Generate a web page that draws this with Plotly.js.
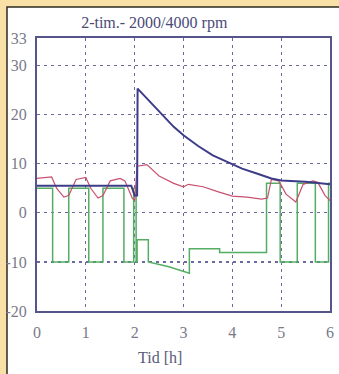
<!DOCTYPE html>
<html>
<head>
<meta charset="utf-8">
<script src="https://cdn.plot.ly/plotly-3.0.1.min.js"></script>
<style>
html,body{margin:0;padding:0;background:#ffffff;}
#chart{width:339px;height:374px;}
</style>
</head>
<body>
<div id="chart"></div>
<script>
// Blue series (dark navy)
const tBlue = [0, 1.93, 2.0, 2.05, 2.06, 2.2, 2.5, 2.8, 3.0, 3.3, 3.6, 3.9, 4.2, 4.5, 4.8, 5.0, 5.5, 6.0];
const blueVals = [5.5, 5.5, 3.5, 3.5, 25.3, 23.8, 20.6, 17.5, 15.8, 13.6, 11.7, 10.3, 9.0, 8.0, 7.0, 6.6, 6.3, 5.8];

// Red series (thin crimson)
const tRed = [0, 0.3, 0.4, 0.55, 0.65, 0.8, 1.0, 1.1, 1.25, 1.35, 1.5, 1.7, 1.8, 1.95, 2.0, 2.05, 2.25, 2.5, 2.8, 3.0, 3.1, 3.4, 3.7, 4.0, 4.3, 4.6, 4.72, 4.8, 4.95, 5.1, 5.3, 5.45, 5.65, 5.75, 5.9, 6.0];
const redVals = [7, 7.3, 5, 3.2, 3.5, 6.8, 7.2, 5, 3, 3.5, 6.5, 7, 6.5, 3, 2.5, 9.5, 9.8, 7.5, 6, 5.3, 5.8, 5.3, 4.3, 3.4, 3.2, 2.8, 3, 6.8, 6.5, 3.8, 2.2, 5.8, 6.5, 6.2, 3.5, 2.5];

// Green series
const tGreen = [0, 0.32, 0.32, 0.65, 0.65, 1.06, 1.06, 1.35, 1.35, 1.78, 1.78, 1.98, 1.98, 2.03, 2.03, 2.05, 2.05, 2.28, 2.28, 2.7, 3.12, 3.12, 3.74, 3.74, 4.7, 4.7, 4.98, 4.98, 5.33, 5.33, 5.7, 5.7, 5.97, 5.97, 6.0];
const greenVals = [5, 5, -10, -10, 5, 5, -10, -10, 5, 5, -10, -10, 5, 5, -10, -10, -5.5, -5.5, -10, -11, -12.3, -7.3, -7.3, -8.1, -8.1, 6, 6, -10, -10, 6, 6, -10, -10, 6, 6];

// Axis ticks
const yTickVals = [-20, -10, 0, 10, 20, 30, 35.6];
const yTickText = ['-20', '-10', '0', '10', '20', '30', '33'];
const xTickVals = [0, 1, 2, 3, 4, 5, 6];
const xTickText = ['0', '1', '2', '3', '4', '5', '6'];

const titleText = '2-tim.- 2000/4000 rpm';
const xTitleText = 'Tid [h]';

const traces = [
  {x: tGreen, y: greenVals, type: 'scatter', mode: 'lines',
   line: {color: '#55ad63', width: 1.5}, hoverinfo: 'skip'},
  {x: tRed, y: redVals, type: 'scatter', mode: 'lines',
   line: {color: '#c8506e', width: 1.2}, hoverinfo: 'skip'},
  {x: tBlue, y: blueVals, type: 'scatter', mode: 'lines',
   line: {color: '#3c3c88', width: 2}, hoverinfo: 'skip'}
];

const serif = '"Liberation Serif", "DejaVu Serif", serif';

const layout = {
  width: 339, height: 374,
  margin: {l: 37, r: 9, t: 38, b: 63},
  paper_bgcolor: '#f9e0a6',
  plot_bgcolor: '#ffffff',
  showlegend: false,
  title: {text: titleText, font: {family: serif, size: 16, color: '#4a4a78'},
          xref: 'container', x: 0.455, xanchor: 'center', yref: 'container', y: 0.94, yanchor: 'middle'},
  xaxis: {range: [0, 6], tickvals: xTickVals, ticktext: xTickText,
          showgrid: true, gridcolor: '#6a6aa0', griddash: '3px,4px', gridwidth: 1.2,
          showline: true, linecolor: '#55558c', linewidth: 2, mirror: true,
          ticks: '', zeroline: false, ticklabelstandoff: 6,
          tickfont: {family: serif, size: 16, color: '#7a7a88'}},
  yaxis: {range: [-20, 35.6], tickvals: yTickVals, ticktext: yTickText,
          showgrid: true, gridcolor: '#6a6aa0', griddash: '3px,4px', gridwidth: 1.2,
          showline: true, linecolor: '#55558c', linewidth: 2, mirror: true,
          ticks: '', zeroline: false, ticklabelstandoff: 5,
          tickfont: {family: serif, size: 16, color: '#7a7a88'}},
  annotations: [
    {text: xTitleText, xref: 'paper', yref: 'paper', x: 0.42, y: -0.172,
     xanchor: 'center', yanchor: 'middle', showarrow: false,
     font: {family: serif, size: 16, color: '#5a5a78'}}
  ],
  shapes: [
    {type: 'rect', layer: 'below', xref: 'paper', yref: 'paper',
     x0: -0.1024, x1: 1.3, y0: -0.5, y1: 1.1136,
     fillcolor: '#ffffff', line: {color: '#2e2a22', width: 1.5}}
  ]
};

Plotly.newPlot('chart', traces, layout, {displayModeBar: false, staticPlot: true});
</script>
</body>
</html>
